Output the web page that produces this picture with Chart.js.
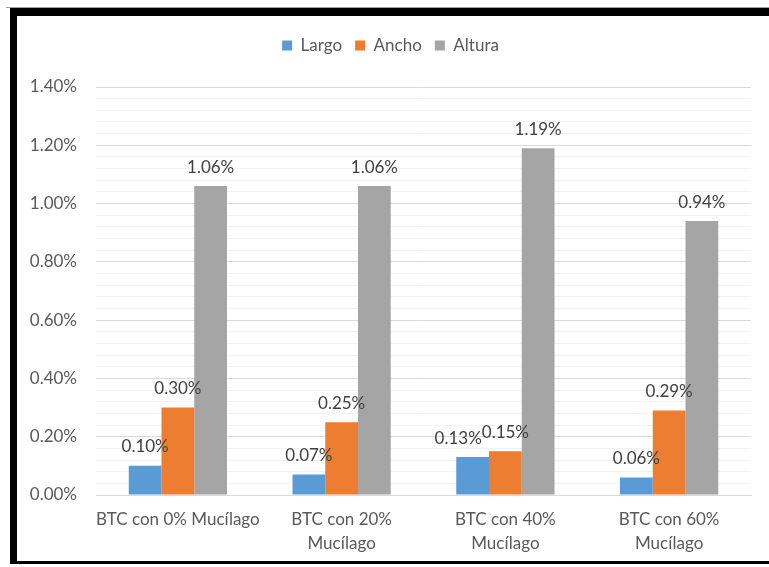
<!DOCTYPE html>
<html lang="es">
<head>
    <meta charset="UTF-8">
    <title>Variación dimensional BTC</title>
    <style>
        body { margin: 0; background: #fff; }
        #wrap { position: absolute; left: 0; top: 0; width: 769px; height: 567px; }
        #frame {
            position: absolute; left: 10px; top: 8px; width: 780px; height: 545px;
            border-top: 8px solid #000; border-left: 7px solid #000; border-bottom: 3px solid #000;
            pointer-events: none;
        }
        #edge { position: absolute; left: 6px; top: 7px; width: 763px; height: 1px; background: #a0a0a0; }
    </style>
</head>
<body>
    <div id="wrap">
        <canvas id="myChart" width="769" height="567"></canvas>
    </div>
    <div id="edge"></div>
    <div id="frame"></div>

    <script src="https://cdn.jsdelivr.net/npm/chart.js"></script>

    <script>
        const categories = [
            'BTC con 0% Mucílago',
            ['BTC con 20%', 'Mucílago'],
            ['BTC con 40%', 'Mucílago'],
            ['BTC con 60%', 'Mucílago']
        ];
        const largo = [0.10, 0.07, 0.13, 0.06];
        const ancho = [0.30, 0.25, 0.15, 0.29];
        const altura = [1.06, 1.06, 1.19, 0.94];

        const FONT = 'Lato, "Noto Sans", sans-serif';

        // value labels above each bar, nudged apart when two of them collide
        const barLabels = {
            id: 'barLabels',
            afterDatasetsDraw(chart) {
                const c = chart.ctx;
                c.save();
                c.font = '17px ' + FONT;
                c.fillStyle = '#404040';
                c.textAlign = 'center';
                c.textBaseline = 'middle';
                const n = chart.data.labels.length;
                for (let i = 0; i < n; i++) {
                    const items = [];
                    chart.data.datasets.forEach((ds, d) => {
                        const bar = chart.getDatasetMeta(d).data[i];
                        const txt = ds.data[i].toFixed(2) + '%';
                        items.push({ x: bar.x, y: bar.y - 19, w: c.measureText(txt).width, txt });
                    });
                    for (let k = items.length - 2; k >= 0; k--) {
                        const a = items[k], b = items[k + 1];
                        if (Math.abs(a.y - b.y) < 16) {
                            const overlap = (a.x + a.w / 2) - (b.x - b.w / 2);
                            if (overlap > 0) a.x -= overlap;
                        }
                    }
                    items.forEach(it => c.fillText(it.txt, it.x, it.y));
                }
                c.restore();
            }
        };

        // extra room between the legend and the plot
        const legendGap = {
            id: 'legendGap',
            beforeInit(chart) {
                const fit = chart.legend.fit;
                chart.legend.fit = function () {
                    fit.call(this);
                    this.height += 23;
                };
            }
        };

        new Chart(document.getElementById('myChart'), {
            type: 'bar',
            data: {
                labels: categories,
                datasets: [
                    { label: 'Largo', data: largo, backgroundColor: '#5b9bd5' },
                    { label: 'Ancho', data: ancho, backgroundColor: '#ed7d31' },
                    { label: 'Altura', data: altura, backgroundColor: '#a5a5a5' }
                ]
            },
            options: {
                responsive: false,
                animation: false,
                layout: { padding: { left: 30, right: 18, top: 24, bottom: 12 } },
                datasets: { bar: { categoryPercentage: 0.6, barPercentage: 1.0 } },
                plugins: {
                    legend: {
                        position: 'top',
                        labels: {
                            boxWidth: 10, boxHeight: 10, padding: 13,
                            color: '#595959', font: { family: FONT, size: 17 }
                        }
                    },
                    tooltip: { enabled: false }
                },
                scales: {
                    x: {
                        grid: { display: false, drawTicks: false },
                        border: { color: '#d9d9d9', width: 1 },
                        ticks: {
                            color: '#595959', padding: 13, maxRotation: 0, autoSkip: false,
                            font: { family: FONT, size: 17, lineHeight: 1.4 }
                        },
                        afterFit(scale) { scale.height = 60; }
                    },
                    y: {
                        min: 0, max: 1.4,
                        border: { display: false },
                        grid: {
                            drawTicks: false,
                            color: ctx => Math.round(ctx.tick.value * 100) % 20 === 0 ? '#d9d9d9' : '#f2f2f2'
                        },
                        ticks: {
                            stepSize: 0.04, autoSkip: false, padding: 19,
                            color: '#595959', font: { family: FONT, size: 17 },
                            callback: v => Math.round(v * 100) % 20 === 0 ? v.toFixed(2) + '%' : ''
                        },
                        afterFit(scale) { scale.width = 66; }
                    }
                }
            },
            plugins: [barLabels, legendGap]
        });
    </script>
</body>
</html>
